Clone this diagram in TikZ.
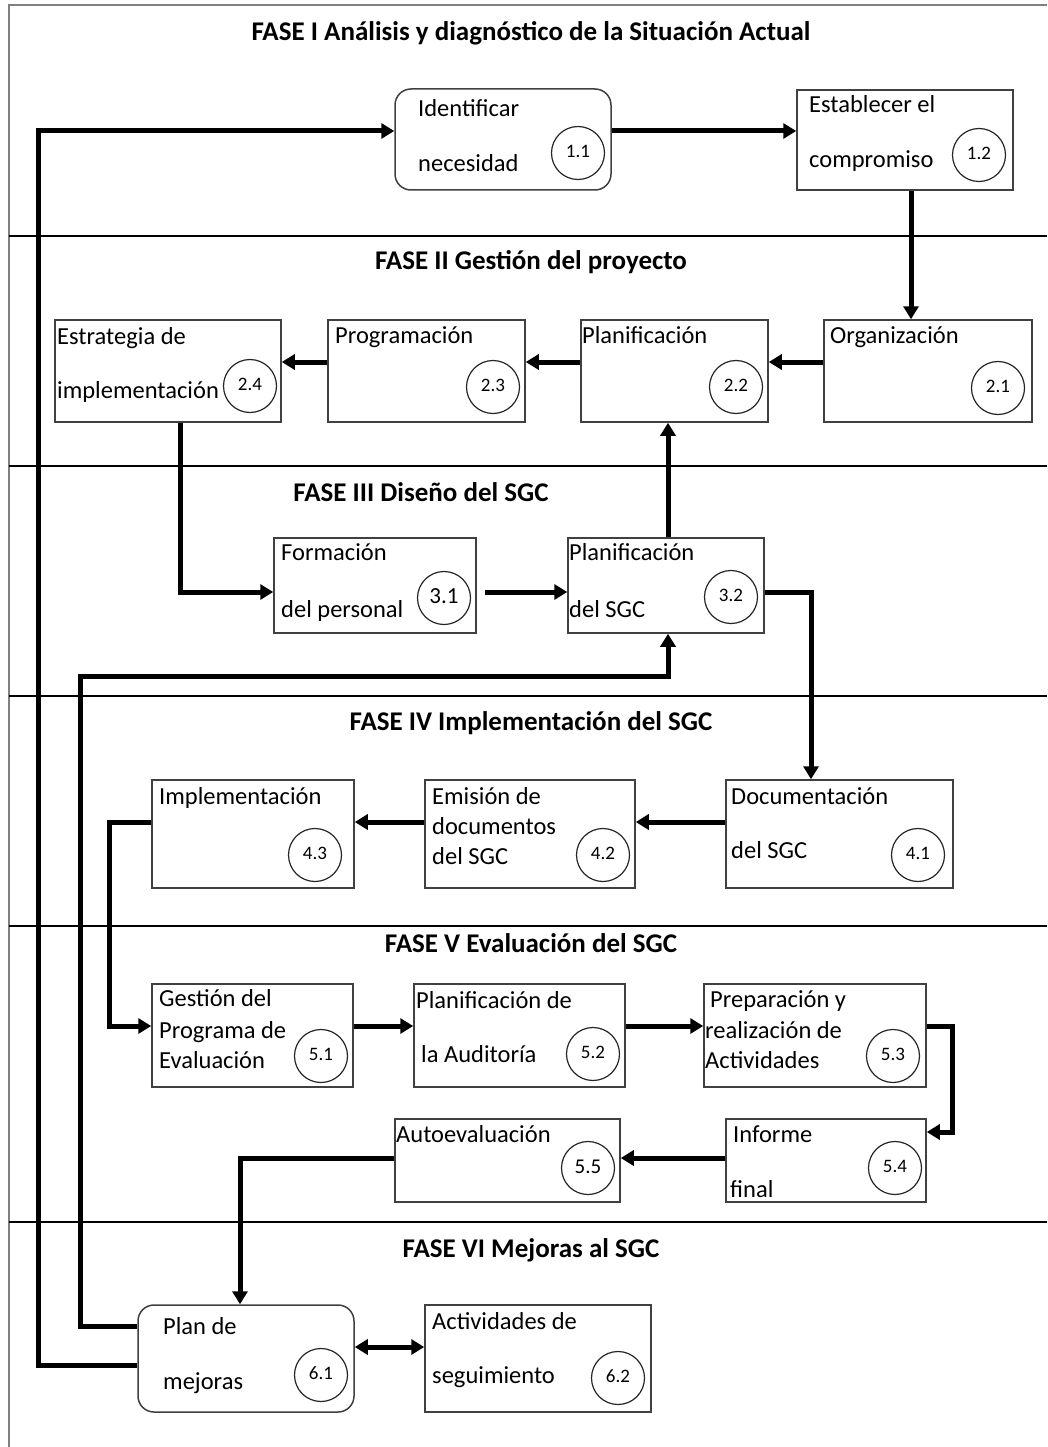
\documentclass[tikz,border=0pt]{standalone}
\usepackage{fontspec}
\setmainfont{Carlito}
\usetikzlibrary{arrows.meta}

\begin{document}
\begin{tikzpicture}[x=1pt,y=-1pt,
  box/.style={draw=black!75, line width=1.5pt, fill=white, inner sep=0pt},
  rbox/.style={box, rounded corners=16pt},
  num/.style={draw=black!85, line width=1.2pt, circle, minimum size=53pt, inner sep=0pt,
              font=\fontsize{19}{21}\selectfont},
  txt/.style={anchor=base west, inner sep=0pt, font=\fontsize{24.5}{28}\selectfont},
  phase/.style={inner sep=0pt, font=\bfseries\fontsize{27}{31}\selectfont},
  sep/.style={line width=1.1pt, black},
  frame/.style={line width=2.4pt, black!50},
  flow/.style={line width=5pt, -{Triangle[length=13pt,width=15pt]}},
  both/.style={line width=5pt, {Triangle[length=13pt,width=15pt]}-{Triangle[length=13pt,width=15pt]}}
]
\useasboundingbox (0,0) rectangle (1047,1447);

% outer frame and phase separators
\draw[frame] (9,1447) -- (9,5) -- (1047,5);
\foreach \yy in {236,466,696,926,1222}
  \draw[sep] (9,\yy) -- (1047,\yy);

% phase titles
\node[phase] (f1) at (531,33) {FASE I Análisis y diagnóstico de la Situación Actual};
\node[phase] (f2) at (531,262) {FASE II Gestión del proyecto};
\node[phase] (f3) at (421,492) {FASE III Diseño del SGC};
\node[phase] (f4) at (531,723) {FASE IV Implementación del SGC};
\node[phase] (f5) at (531,943) {FASE V Evaluación del SGC};
\node[phase] (f6) at (531,1250) {FASE VI Mejoras al SGC};

% activity boxes
\node[rbox, minimum width=216pt, minimum height=101pt] (b11) at (503,139.5) {};
\node[box,  minimum width=216pt, minimum height=100pt] (b12) at (905,140) {};
\node[box,  minimum width=208pt, minimum height=102pt] (b21) at (928,371) {};
\node[box,  minimum width=187pt, minimum height=102pt] (b22) at (674.5,371) {};
\node[box,  minimum width=197pt, minimum height=102pt] (b23) at (426.5,371) {};
\node[box,  minimum width=226pt, minimum height=102pt] (b24) at (168,371) {};
\node[box,  minimum width=202pt, minimum height=95pt]  (b31) at (375,585.5) {};
\node[box,  minimum width=196pt, minimum height=95pt]  (b32) at (666,585.5) {};
\node[box,  minimum width=227pt, minimum height=108pt] (b41) at (839.5,834) {};
\node[box,  minimum width=210pt, minimum height=108pt] (b42) at (530,834) {};
\node[box,  minimum width=202pt, minimum height=108pt] (b43) at (253,834) {};
\node[box,  minimum width=201pt, minimum height=103pt] (b51) at (252.5,1035.5) {};
\node[box,  minimum width=211pt, minimum height=103pt] (b52) at (519.5,1035.5) {};
\node[box,  minimum width=222pt, minimum height=103pt] (b53) at (815,1035.5) {};
\node[box,  minimum width=200pt, minimum height=83pt]  (b54) at (826,1160.5) {};
\node[box,  minimum width=225pt, minimum height=83pt]  (b55) at (507.5,1160.5) {};
\node[rbox, minimum width=216pt, minimum height=107pt] (b61) at (246,1358.5) {};
\node[box,  minimum width=226pt, minimum height=107pt] (b62) at (538,1358.5) {};

% turning points of the long connectors
\coordinate (outerturn) at (38,131);
\coordinate (lowturn) at (80,676);
\coordinate (turn43) at (109,822);
\coordinate (turn53) at (952,1026);

% connectors
\draw[flow] ([yshift=-6.5pt]b61.west) -| (outerturn) -- ([yshift=8.5pt]b11.west);
\draw[flow] ([yshift=8.5pt]b11.east) -- ([yshift=8.5pt]b11.east -| b12.west);
\draw[flow] ([xshift=6pt]b12.south) -- ([xshift=6pt]b12.south |- b21.north);
\draw[flow] ([yshift=9pt]b21.west) -- ([yshift=9pt]b21.west -| b22.east);
\draw[flow] ([yshift=9pt]b22.west) -- ([yshift=9pt]b22.west -| b23.east);
\draw[flow] ([yshift=9pt]b23.west) -- ([yshift=9pt]b23.west -| b24.east);
\draw[flow] ([xshift=12pt]b24.south) |- ([yshift=-6.5pt]b31.west);
\draw[flow] ([xshift=8pt,yshift=-6.5pt]b31.east) -- ([yshift=-6.5pt]b32.west);
\draw[flow] ([xshift=2pt]b32.north) -- ([xshift=2pt]b32.north |- b22.south);
\draw[flow] ([yshift=-6.5pt]b32.east) -| ([xshift=-28.5pt]b41.north);
\draw[flow] ([yshift=32.5pt]b61.west) -| (lowturn) -| ([xshift=2pt]b32.south);
\draw[flow] ([yshift=12pt]b41.west) -- ([yshift=12pt]b41.west -| b42.east);
\draw[flow] ([yshift=12pt]b42.west) -- ([yshift=12pt]b42.west -| b43.east);
\draw[flow] ([yshift=12pt]b43.west) -- (turn43) |- ([yshift=9.5pt]b51.west);
\draw[flow] ([yshift=9.5pt]b51.east) -- ([yshift=9.5pt]b51.east -| b52.west);
\draw[flow] ([yshift=9.5pt]b52.east) -- ([yshift=9.5pt]b52.east -| b53.west);
\draw[flow] ([yshift=9.5pt]b53.east) -- (turn53) |- ([yshift=28.5pt]b54.east);
\draw[flow] ([yshift=2.5pt]b54.west) -- ([yshift=2.5pt]b54.west -| b55.east);
\draw[flow] ([yshift=2.5pt]b55.west) -| ([xshift=-6pt]b61.north);
\draw[both] ([yshift=11.5pt]b61.east) -- ([yshift=11.5pt]b61.east -| b62.west);

% box texts
\node[txt] (t11a) at (418,117) {Identificar};
\node[txt] (t11b) at (418,172) {necesidad};
\node[txt] (t12a) at (809,113) {Establecer el};
\node[txt] (t12b) at (809,168) {compromiso};
\node[txt] (t21)  at (830,343) {Organización};
\node[txt] (t22)  at (582,343) {Planificación};
\node[txt] (t23)  at (335,343) {Programación};
\node[txt] (t24a) at (57,344) {Estrategia de};
\node[txt] (t24b) at (57,398) {implementación};
\node[txt] (t31a) at (281,560) {Formación};
\node[txt] (t31b) at (281,617) {del personal};
\node[txt] (t32a) at (569,560) {Planificación};
\node[txt] (t32b) at (569,617) {del SGC};
\node[txt] (t41a) at (731,804) {Documentación};
\node[txt] (t41b) at (731,858) {del SGC};
\node[txt] (t42a) at (432,804) {Emisión de};
\node[txt] (t42b) at (432,834) {documentos};
\node[txt] (t42c) at (432,864) {del SGC};
\node[txt] (t43)  at (159,804) {Implementación};
\node[txt] (t51a) at (159,1006) {Gestión del};
\node[txt] (t51b) at (159,1038) {Programa de};
\node[txt] (t51c) at (159,1068) {Evaluación};
\node[txt] (t52a) at (416,1008) {Planificación de};
\node[txt] (t52b) at (421,1062) {la Auditoría};
\node[txt] (t53a) at (710,1007) {Preparación y};
\node[txt] (t53b) at (705,1038) {realización de};
\node[txt] (t53c) at (705,1068) {Actividades};
\node[txt] (t54a) at (733,1142) {Informe};
\node[txt] (t54b) at (730,1197) {final};
\node[txt] (t55)  at (396,1142) {Autoevaluación};
\node[txt] (t61a) at (163,1334) {Plan de};
\node[txt] (t61b) at (163,1389) {mejoras};
\node[txt] (t62a) at (432,1329) {Actividades de};
\node[txt] (t62b) at (432,1383) {seguimiento};

% step numbers
\node[num] (n11) at (578,153)  {\raisebox{4pt}{1.1}};
\node[num] (n12) at (979,155)  {\raisebox{4pt}{1.2}};
\node[num] (n21) at (998,388)  {\raisebox{4pt}{2.1}};
\node[num] (n22) at (736,387)  {\raisebox{4pt}{2.2}};
\node[num] (n23) at (493,387)  {\raisebox{4pt}{2.3}};
\node[num] (n24) at (250,386)  {\raisebox{4pt}{2.4}};
\node[num, font=\fontsize{23}{25}\selectfont] (n31) at (444,598) {\raisebox{3pt}{3.1}};
\node[num] (n32) at (731,597)  {\raisebox{4pt}{3.2}};
\node[num] (n41) at (918,855)  {\raisebox{4pt}{4.1}};
\node[num] (n42) at (603,855)  {\raisebox{4pt}{4.2}};
\node[num] (n43) at (315,855)  {\raisebox{4pt}{4.3}};
\node[num] (n51) at (321,1056) {\raisebox{4pt}{5.1}};
\node[num] (n52) at (593,1054) {\raisebox{4pt}{5.2}};
\node[num] (n53) at (893,1056) {\raisebox{4pt}{5.3}};
\node[num] (n54) at (895,1168) {\raisebox{4pt}{5.4}};
\node[num, font=\fontsize{21}{23}\selectfont] (n55) at (588,1168) {\raisebox{3pt}{5.5}};
\node[num] (n61) at (321,1375) {\raisebox{4pt}{6.1}};
\node[num] (n62) at (618,1378) {\raisebox{4pt}{6.2}};
\end{tikzpicture}
\end{document}
